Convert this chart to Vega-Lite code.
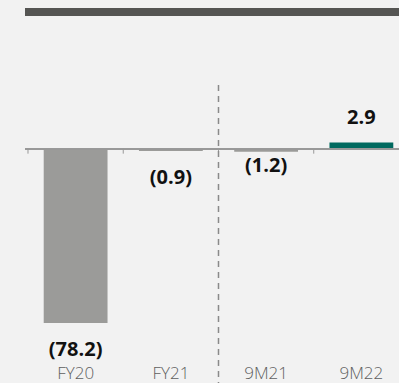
{
  "$schema": "https://vega.github.io/schema/vega-lite/v6.json",
  "width": 374,
  "height": 298,
  "autosize": {"type": "none"},
  "padding": {"left": 25, "top": 85, "right": 0, "bottom": 0},
  "background": "#f2f2f2",
  "config": {"view": {"stroke": null}, "font": "Open Sans"},
  "data": {"values": [
    {"period": "FY20", "value": -78.2, "label": "(78.2)", "kind": "past"},
    {"period": "FY21", "value": -0.9, "label": "(0.9)", "kind": "past"},
    {"period": "9M21", "value": -1.2, "label": "(1.2)", "kind": "past"},
    {"period": "9M22", "value": 2.9, "label": "2.9", "kind": "current"}
  ]},
  "layer": [
    {
      "mark": {"type": "bar"},
      "encoding": {
        "x": {"field": "period", "type": "nominal", "sort": null,
          "scale": {"range": [3, 384], "paddingInner": 0.33, "paddingOuter": 0.165},
          "axis": {"orient": "bottom", "title": null, "domain": false, "ticks": false,
            "labelAngle": 0, "labelBaseline": "top",
            "labelFontSize": 17, "labelColor": "#5f5f5f", "labelPadding": 0, "offset": -18,
            "labelFont": "Open Sans", "labelFontWeight": 300}},
        "y": {"field": "value", "type": "quantitative",
          "scale": {"domain": [-105.17, 28.76], "nice": false, "zero": false}, "axis": null},
        "y2": {"datum": 0},
        "color": {"field": "kind", "type": "nominal",
          "scale": {"domain": ["past", "current"], "range": ["#9b9b99", "#00695f"]}, "legend": null}
      }
    },
    {
      "mark": {"type": "rule", "color": "#555553", "strokeWidth": 8},
      "encoding": {
        "y": {"datum": 61.6, "type": "quantitative"}
      }
    },
    {
      "mark": {"type": "rule", "color": "#999999", "strokeWidth": 1.5},
      "encoding": {
        "y": {"datum": 0, "type": "quantitative"}
      }
    },
    {
      "mark": {"type": "rule", "color": "#999999", "strokeWidth": 1},
      "encoding": {
        "x": {"field": "period", "type": "nominal", "sort": null, "bandPosition": -0.2463},
        "y": {"datum": 0, "type": "quantitative"},
        "y2": {"datum": -2.1}
      }
    },
    {
      "mark": {"type": "rule", "color": "#8a8a8a", "strokeDash": [6, 5], "strokeWidth": 1.5},
      "transform": [{"filter": "datum.period == '9M21'"}],
      "encoding": {
        "x": {"field": "period", "type": "nominal", "sort": null, "bandPosition": -0.2463}
      }
    },
    {
      "mark": {"type": "text", "fontWeight": "bold", "fontSize": 20, "color": "#111111", "baseline": "middle", "dy": 27},
      "transform": [{"filter": "datum.value < 0 && datum.period != '9M21'"}],
      "encoding": {
        "x": {"field": "period", "type": "nominal", "sort": null},
        "y": {"field": "value", "type": "quantitative"},
        "text": {"field": "label"}
      }
    },
    {
      "mark": {"type": "text", "fontWeight": "bold", "fontSize": 20, "color": "#111111", "baseline": "middle", "dy": 14},
      "transform": [{"filter": "datum.period == '9M21'"}],
      "encoding": {
        "x": {"field": "period", "type": "nominal", "sort": null},
        "y": {"field": "value", "type": "quantitative"},
        "text": {"field": "label"}
      }
    },
    {
      "mark": {"type": "text", "fontWeight": "bold", "fontSize": 20, "color": "#111111", "baseline": "middle", "dy": -25},
      "transform": [{"filter": "datum.value > 0"}],
      "encoding": {
        "x": {"field": "period", "type": "nominal", "sort": null},
        "y": {"field": "value", "type": "quantitative"},
        "text": {"field": "label"}
      }
    }
  ]
}
